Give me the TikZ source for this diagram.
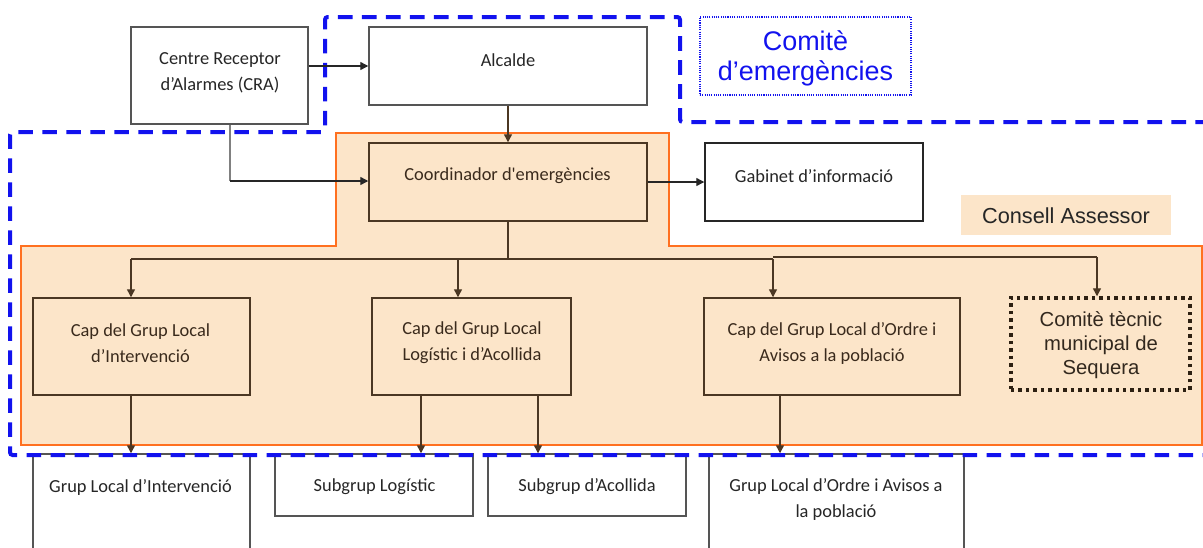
\documentclass[tikz,border=0pt]{standalone}
\usepackage{fontspec}
\setmainfont{Carlito}
\newfontfamily\arialf{Liberation Sans}
\usetikzlibrary{arrows.meta,fit,calc}
\definecolor{peach}{RGB}{252,229,201}
\definecolor{orng}{RGB}{255,112,32}
\definecolor{bblue}{RGB}{18,18,238}
\definecolor{txt}{RGB}{38,38,38}
\definecolor{btxt}{RGB}{58,42,28}
\definecolor{bline}{RGB}{75,55,35}
\definecolor{gline}{RGB}{85,85,85}
\begin{document}
\begin{tikzpicture}[x=0.75pt,y=-0.75pt,
  wbox/.style={draw=gline, line width=1.1pt, fill=white, inner sep=0pt},
  obox/.style={draw=bline, line width=1.1pt, fill=peach, inner sep=0pt},
  lbl/.style={text=txt, font=\fontsize{13.8}{19.5}\selectfont, align=center, inner sep=0pt},
  olbl/.style={lbl, text=btxt},
  albl/.style={inner sep=0pt, align=center},
  arr/.style={draw=black!85, line width=1pt, -{Triangle[length=6pt,width=6pt]}},
  oarr/.style={draw=bline, line width=1pt, -{Triangle[length=6pt,width=6pt]}},
  oline/.style={draw=bline, line width=1pt},
  bluedash/.style={draw=bblue, line width=3pt, dash pattern=on 11pt off 7pt, rounded corners=2pt}
]
\useasboundingbox (0,0) rectangle (1203,547);
\clip (0,0) rectangle (1203,547);

% Consell Assessor region
\fill[peach] (336,133) -- (669,133) -- (669,246) -- (1202,246) -- (1202,445) -- (21,445) -- (21,246) -- (336,246) -- cycle;
\draw[orng, line width=1.2pt] (336,133) -- (669,133) -- (669,246) -- (1202,246) -- (1202,445) -- (21,445) -- (21,246) -- (336,246) -- cycle;

% boxes
\node[wbox, fit={(131,27) (308,124)}] (cra) {};
\node[wbox, fit={(369,27) (647,105)}] (alc) {};
\node[obox, fit={(369,143) (647,221)}] (coord) {};
\node[wbox, draw=black!85, fit={(705,143) (923,221)}] (gab) {};
\node[obox, fit={(33,298) (250,395)}] (capA) {};
\node[obox, fit={(372,298) (571,395)}] (capL) {};
\node[obox, fit={(704,298) (960,395)}] (capO) {};
\node[inner sep=0pt, fill=peach, draw={rgb,255:red,45;green,32;blue,18}, line width=2.6pt, dash pattern=on 2.6pt off 3pt, fit={(1011,298) (1190,390)}] (ct) {};
\node[wbox, fit={(33,454) (250,560)}] (gA) {};
\node[wbox, fit={(275,454) (473,516)}] (sL) {};
\node[wbox, fit={(488,454) (686,516)}] (sA) {};
\node[wbox, fit={(709,454) (964,560)}] (gO) {};
\node[inner sep=0pt, draw=bblue, line width=0.8pt, dash pattern=on 0.8pt off 0.9pt, fit={(700,17) (911,95)}] (comE) {};
\node[inner sep=0pt, fill=peach, fit={(961,195) (1171,235)}] (cons) {};

% labels
\node[lbl] (cra-t) at (220,72.5) {Centre Receptor\\d’Alarmes (CRA)};
\node[lbl] (alc-t) at (508,60) {Alcalde};
\node[olbl] (coord-t) at (507.5,176) {Coordinador d\textquotesingle emergències};
\node[lbl] (gab-t) at (814,176) {Gabinet d’informació};
\node[olbl] (capA-t) at (140.5,343) {Cap del Grup Local\\d’Intervenció};
\node[olbl] (capL-t) at (472,343) {Cap del Grup Local\\Logístic i d’Acollida};
\node[olbl] (capO-t) at (832,343) {Cap del Grup Local d’Ordre i\\Avisos a la població};
\node[albl, text={rgb,255:red,50;green,40;blue,30}, font=\arialf\fontsize{15.2}{18}\selectfont] (ct-t) at (1101,345) {Comitè tècnic\\municipal de\\Sequera};
\node[lbl] (gA-t) at (140.5,487) {Grup Local d’Intervenció};
\node[lbl] (sL-t) at (374.5,487) {Subgrup Logístic};
\node[lbl] (sA-t) at (587,487) {Subgrup d’Acollida};
\node[lbl] (gO-t) at (836,499.5) {Grup Local d’Ordre i Avisos a\\la població};
\node[albl, text=bblue, font=\arialf\fontsize{20.2}{22.5}\selectfont] (comE-t) at (805.5,58) {Comitè\\d’emergències};
\node[albl, text=black!85, font=\arialf\fontsize{16.3}{19}\selectfont] (cons-t) at (1066,216) {Consell Assessor};

% blue dashed boundary
\draw[bluedash] (1210,122) -- (680,122) -- (680,17) -- (325,17) -- (325,132) -- (10,132) -- (10,455) -- (1210,455);

% connectors
\draw[arr] (cra.east |- 0,66) -- (alc.west |- 0,66);
\coordinate (k) at (230,181);
\draw[draw=gray, line width=1pt] (cra.south -| k) -- (k);
\draw[arr] (k) -- (k -| coord.west);
\draw[oarr] (alc.south) -- (coord.north);
\draw[arr] (coord.east) -- (gab.west);

\coordinate (b1) at (131,259);
\coordinate (b2) at (458,259);
\coordinate (b3) at (773,259);
\coordinate (b4) at (773,257);
\coordinate (b5) at (1097,257);
\draw[oline] (coord.south) -- (coord.south |- b1);
\draw[oline] (b1) -- (b3);
\draw[oline] (b4) -- (b5);
\draw[oarr] (b1) -- (b1 |- capA.north);
\draw[oarr] (b2) -- (b2 |- capL.north);
\draw[oarr] (b3) -- (b3 |- capO.north);
\draw[oarr] (b5) -- (b5 |- ct.north);

\coordinate (d1) at (131,0);
\coordinate (d2) at (421,0);
\coordinate (d3) at (538,0);
\coordinate (d4) at (780,0);
\draw[oarr] (capA.south -| d1) -- (gA.north -| d1);
\draw[oarr] (capL.south -| d2) -- (sL.north -| d2);
\draw[oarr] (capL.south -| d3) -- (sA.north -| d3);
\draw[oarr] (capO.south -| d4) -- (gO.north -| d4);
\end{tikzpicture}
\end{document}
